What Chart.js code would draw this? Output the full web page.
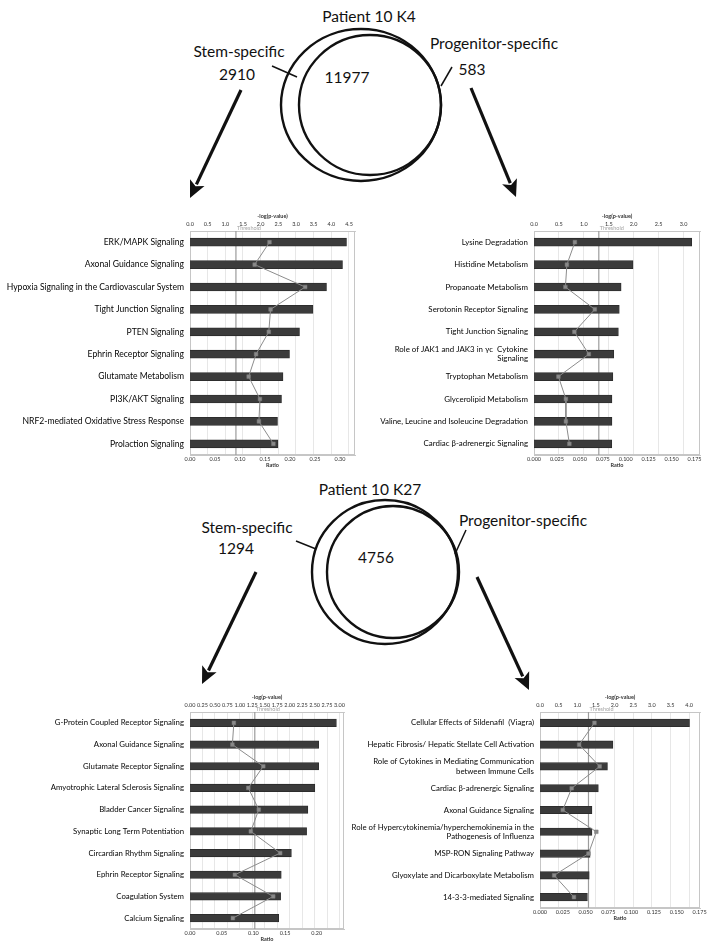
<!DOCTYPE html>
<html><head><meta charset="utf-8">
<script src="https://cdn.jsdelivr.net/npm/chart.js@4.4.0/dist/chart.umd.min.js"></script>
<style>
html,body{margin:0;padding:0;background:#fff;width:715px;height:950px;overflow:hidden;font-family:Lato,sans-serif;}
canvas{position:absolute;}
#venn{position:absolute;left:0;top:0;}
</style></head><body>
<svg id="venn" width="715" height="950" xmlns="http://www.w3.org/2000/svg" font-family="Lato, sans-serif" font-size="15.5" fill="#111">
<g fill="none" stroke="#111" stroke-width="2.4">
<ellipse cx="361" cy="105" rx="80" ry="76"/>
<ellipse cx="370" cy="105" rx="71" ry="70"/>
<ellipse cx="385" cy="572" rx="73" ry="72"/>
<ellipse cx="393" cy="572" rx="66" ry="66"/>
</g>
<g stroke="#111" stroke-width="1.5">
<line x1="272" y1="66" x2="297" y2="77"/>
<line x1="452" y1="67" x2="441" y2="86"/>
<line x1="296" y1="541" x2="316" y2="549"/>
<line x1="466" y1="530" x2="455" y2="554"/>
</g>
<g id="arrows"></g>
<g text-anchor="middle" dominant-baseline="central">
<text x="369" y="16">Patient 10 K4</text>
<text x="239" y="51">Stem-specific</text>
<text x="237" y="74">2910</text>
<text x="347" y="77">11977</text>
<text x="494" y="43">Progenitor-specific</text>
<text x="472" y="69">583</text>
<text x="370" y="489">Patient 10 K27</text>
<text x="247" y="527">Stem-specific</text>
<text x="236" y="548">1294</text>
<text x="376" y="557">4756</text>
<text x="523" y="520">Progenitor-specific</text>
</g>
</svg>
<canvas id="c1"></canvas>
<canvas id="c2"></canvas>
<canvas id="c3"></canvas>
<canvas id="c4"></canvas>
<script>
// ---------------- DATA ----------------
const k4StemLabels = ["ERK/MAPK Signaling","Axonal Guidance Signaling","Hypoxia Signaling in the Cardiovascular System","Tight Junction Signaling","PTEN Signaling","Ephrin Receptor Signaling","Glutamate Metabolism","PI3K/AKT Signaling","NRF2-mediated Oxidative Stress Response","Prolaction Signaling"];
const k4StemRatio = [0.313,0.305,0.273,0.246,0.219,0.199,0.186,0.183,0.175,0.176];
const k4StemLogP = [2.25,1.83,3.26,2.28,2.23,1.87,1.66,1.98,1.95,2.36];

const k4ProgLabels = ["Lysine Degradation","Histidine Metabolism","Propanoate Metabolism","Serotonin Receptor Signaling","Tight Junction Signaling",["Role of JAK1 and JAK3 in \u03b3c  Cytokine","Signaling"],"Tryptophan Metabolism","Glycerolipid Metabolism","Valine, Leucine and Isoleucine Degradation","Cardiac \u03b2-adrenergic Signaling"];
const k4ProgRatio = [0.172,0.108,0.095,0.093,0.092,0.087,0.086,0.085,0.085,0.0848];
const k4ProgLogP = [0.82,0.66,0.63,1.22,0.81,1.10,0.49,0.64,0.64,0.71];

const k27StemLabels = ["G-Protein Coupled Receptor Signaling","Axonal Guidance Signaling","Glutamate Receptor Signaling","Amyotrophic Lateral Sclerosis Signaling","Bladder Cancer Signaling","Synaptic Long Term Potentiation","Circardian Rhythm Signaling","Ephrin Receptor Signaling","Coagulation System","Calcium Signaling"];
const k27StemRatio = [0.231,0.203,0.203,0.197,0.186,0.184,0.160,0.144,0.143,0.140];
const k27StemLogP = [0.88,0.85,1.47,1.17,1.38,1.22,1.81,0.90,1.67,0.86];

const k27ProgLabels = ["Cellular Effects of Sildenafil  (Viagra)","Hepatic Fibrosis/ Hepatic Stellate Cell Activation",["Role of Cytokines in Mediating Communication","between Immune Cells"],"Cardiac \u03b2-adrenergic Signaling","Axonal Guidance Signaling",["Role of Hypercytokinemia/hyperchemokinemia in the","Pathogenesis of Influenza"],"MSP-RON Signaling Pathway","Glyoxylate and Dicarboxylate Metabolism","14-3-3-mediated Signaling"];
const k27ProgRatio = [0.164,0.080,0.074,0.064,0.057,0.057,0.055,0.054,0.052];
const k27ProgLogP = [1.46,1.05,1.60,0.85,0.61,1.51,1.30,0.38,0.91];

// axis ranges: [max, step, decimals]
const k4StemRatioAxis = [0.33, 0.05, 2];
const k4StemLogPAxis = [4.67, 0.5, 1];
const k4ProgRatioAxis = [0.181, 0.025, 3];
const k4ProgLogPAxis = [3.33, 0.5, 1];
const k27StemRatioAxis = [0.243, 0.05, 2];
const k27StemLogPAxis = [3.09, 0.25, 2];
const k27ProgRatioAxis = [0.1755, 0.025, 3];
const k27ProgLogPAxis = [4.29, 0.5, 1];
const thresholdLogP = 1.3;

// ---------------- arrows (decoration) ----------------
(function(){
  const g = document.getElementById('arrows');
  const NS = 'http://www.w3.org/2000/svg';
  const arrows = [[241,90,190,198],[471,88,516,197],[256,572,202,684],[477,577,529,690]];
  arrows.forEach(([x1,y1,x2,y2])=>{
    const dx=x2-x1, dy=y2-y1, L=Math.hypot(dx,dy), ux=dx/L, uy=dy/L;
    const hl=17, hw=8;
    const bx=x2-ux*hl, by=y2-uy*hl;
    const ln=document.createElementNS(NS,'line');
    ln.setAttribute('x1',x1);ln.setAttribute('y1',y1);ln.setAttribute('x2',bx+ux*2);ln.setAttribute('y2',by+uy*2);
    ln.setAttribute('stroke','#111');ln.setAttribute('stroke-width','3.2');
    g.appendChild(ln);
    const p=document.createElementNS(NS,'polygon');
    p.setAttribute('points',`${x2},${y2} ${bx-uy*hw},${by+ux*hw} ${bx+ux*4},${by+uy*4} ${bx+uy*hw},${by-ux*hw}`);
    p.setAttribute('fill','#111');
    g.appendChild(p);
  });
})();

// ---------------- charts ----------------
const decor = {
  id:'decor',
  beforeDatasetsDraw(chart){
    const {ctx, chartArea:a} = chart;
    const x2 = chart.scales.x2;
    const tx = x2.getPixelForValue(thresholdLogP);
    ctx.save();
    ctx.strokeStyle='#c6c6c6'; ctx.lineWidth=1;
    ctx.strokeRect(a.left+0.5,a.top+0.5,a.width-1,a.height-1);
    ctx.strokeStyle='#9c9c9c'; ctx.lineWidth=1.2;
    ctx.beginPath(); ctx.moveTo(tx,a.top); ctx.lineTo(tx,a.bottom); ctx.stroke();
    ctx.fillStyle='#a4a4a4'; ctx.font='5.5px Lato'; ctx.textBaseline='middle'; ctx.textAlign='left';
    ctx.fillText('Threshold', tx+1, a.top-3);
    ctx.restore();
  }
};

function makeChart(id, geo, labels, ratio, logp, rAxis, lAxis, barT, fs){
  const cv = document.getElementById(id);
  const topH = 18, botH = 14, padR = 10;
  const cTop = geo.plotTop - topH;
  const w = geo.plotRight - geo.left + padR;
  const h = geo.plotBottom + botH - cTop;
  cv.width = w; cv.height = h;
  cv.style.left = geo.left+'px'; cv.style.top = cTop+'px';
  cv.style.width = w+'px'; cv.style.height = h+'px';
  const onStep = (step)=> (scale)=>{
    scale.ticks = scale.ticks.filter(t => Math.abs(t.value/step - Math.round(t.value/step)) < 1e-6);
  };
  new Chart(cv, {
    type:'bar',
    data:{
      labels: labels,
      datasets:[
        {type:'line', data: logp, xAxisID:'x2', yAxisID:'y', indexAxis:'y',
         borderColor:'#8c8c8c', borderWidth:1, pointStyle:'rect', pointRadius:2.6,
         pointBackgroundColor:'#8a8a8a', pointBorderColor:'#7a7a7a', pointBorderWidth:0.5,
         fill:false, tension:0, order:0},
        {type:'bar', data: ratio, xAxisID:'x', yAxisID:'y',
         backgroundColor:'#3b3b3b', borderColor:'#2a2a2a', borderWidth:0.8,
         barThickness: barT, order:1}
      ]
    },
    options:{
      indexAxis:'y', responsive:false, animation:false, devicePixelRatio:1,
      layout:{padding:{left:0,right:padR,top:0,bottom:0}},
      plugins:{legend:{display:false}, tooltip:{enabled:false}},
      scales:{
        y:{type:'category', position:'left', offset:true,
           grid:{display:false, drawTicks:false},
           border:{display:true, color:'#a9a9a9'},
           ticks:{autoSkip:false, padding:6, color:'#050505', font:{family:'Lato', size:fs}},
           afterFit:(s)=>{ s.width = geo.plotLeft - geo.left; }},
        x:{type:'linear', position:'bottom', min:0, max:rAxis[0],
           grid:{display:false, drawTicks:false},
           border:{display:true, color:'#c6c6c6'},
           ticks:{stepSize:rAxis[1], includeBounds:false, padding:1, color:'#333', font:{family:'Lato', size:5.5},
                  maxRotation:0, autoSkip:false, callback:(v)=>Number(v).toFixed(rAxis[2])},
           afterBuildTicks:onStep(rAxis[1]),
           title:{display:true, text:'Ratio', padding:0, color:'#333', font:{family:'Lato', size:5.5, weight:'bold'}},
           afterFit:(s)=>{ s.height = botH; }},
        x2:{type:'linear', position:'top', min:0, max:lAxis[0],
           grid:{display:true, drawTicks:false, color:'#e1e1e1', lineWidth:0.8},
           border:{display:true, color:'#c6c6c6'},
           ticks:{stepSize:lAxis[1], includeBounds:false, padding:3, color:'#333', font:{family:'Lato', size:5.5},
                  maxRotation:0, autoSkip:false, callback:(v)=>Number(v).toFixed(lAxis[2])},
           afterBuildTicks:onStep(lAxis[1]),
           title:{display:true, text:'-log(p-value)', padding:0, color:'#333', font:{family:'Lato', size:5.5, weight:'bold'}},
           afterFit:(s)=>{ s.height = topH; }}
      }
    },
    plugins:[decor]
  });
}

makeChart('c1', {left:0, plotLeft:190, plotRight:355, plotTop:231, plotBottom:455}, k4StemLabels, k4StemRatio, k4StemLogP, k4StemRatioAxis, k4StemLogPAxis, 8, 8.6);
makeChart('c2', {left:340, plotLeft:534, plotRight:700, plotTop:231, plotBottom:455}, k4ProgLabels, k4ProgRatio, k4ProgLogP, k4ProgRatioAxis, k4ProgLogPAxis, 8, 7.9);
makeChart('c3', {left:0, plotLeft:190, plotRight:344, plotTop:712, plotBottom:929}, k27StemLabels, k27StemRatio, k27StemLogP, k27StemRatioAxis, k27StemLogPAxis, 7.5, 7.8);
makeChart('c4', {left:330, plotLeft:540, plotRight:700, plotTop:712, plotBottom:908}, k27ProgLabels, k27ProgRatio, k27ProgLogP, k27ProgRatioAxis, k27ProgLogPAxis, 7.5, 7.8);
</script>
</body></html>
